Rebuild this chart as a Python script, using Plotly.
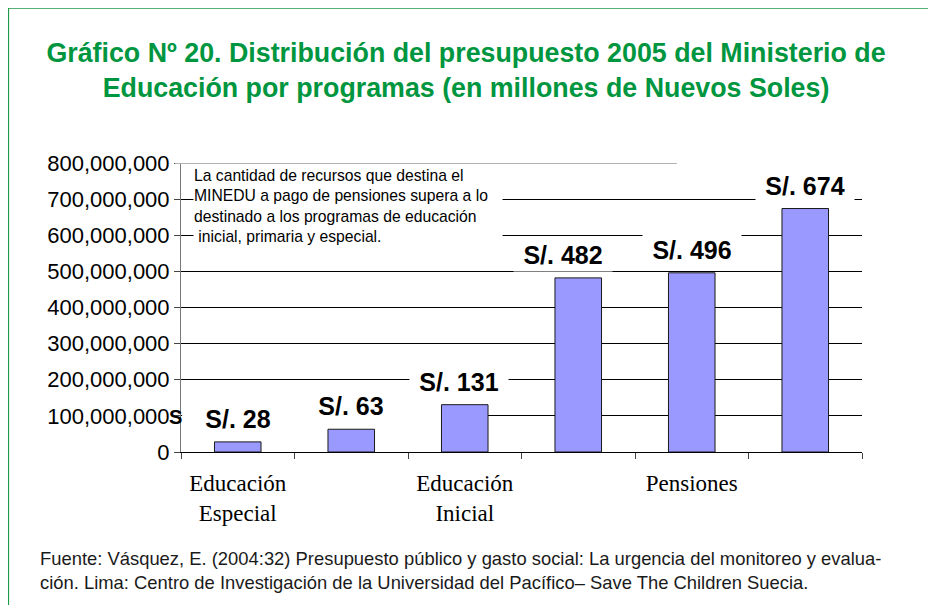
import plotly.graph_objects as go

# Presupuesto 2005 MINEDU por programas (Nuevos Soles)
valores = [28e6, 63e6, 131e6, 482e6, 496e6, 674e6]
etiquetas_x = ["Educación<br>Especial", "", "Educación<br>Inicial", "", "Pensiones", ""]
ticks_y = [0, 100e6, 200e6, 300e6, 400e6, 500e6, 600e6, 700e6, 800e6]
grid_y = [100e6, 200e6, 300e6, 400e6, 500e6, 600e6, 700e6]

titulo = ("Gráfico Nº 20. Distribución del presupuesto 2005 del Ministerio de<br>"
          "Educación por programas (en millones de Nuevos Soles)")
nota = ("La cantidad de recursos que destina el<br>"
        "MINEDU a pago de pensiones supera a lo<br>"
        "destinado a los programas de educación<br>"
        " inicial, primaria y especial.")
fuente = ("Fuente: Vásquez, E. (2004:32) Presupuesto público y gasto social: La urgencia del monitoreo y evalua-<br>"
          "ción. Lima: Centro de Investigación de la Universidad del Pacífico– Save The Children Suecia.")

SANS = "Liberation Sans, Arial, sans-serif"
SERIF = "Liberation Serif, Times New Roman, serif"
VERDE = "#009640"

x = list(range(len(valores)))

fig = go.Figure()
fig.add_trace(go.Bar(
    x=x, y=valores, width=0.41,
    marker=dict(color="#9999ff", line=dict(color="#1a1a1a", width=1)),
    showlegend=False, hoverinfo="skip",
))

# etiquetas de datos con fondo blanco (tapan la cuadricula)
dx = [0, 0, -6, -15, 0, 0]
for i, v in enumerate(valores):
    fig.add_annotation(
        x=i, y=v, text="<b>S/. %d</b>" % round(v / 1e6),
        showarrow=False, yanchor="middle", yshift=23, xshift=dx[i],
        font=dict(family=SANS, size=25, color="black"),
        bgcolor="white", width=98, height=32, borderpad=0,
    )

# recuadro de texto
fig.add_annotation(
    xref="paper", yref="paper", x=0.0176, y=0.993, xanchor="left", yanchor="top",
    text=nota, showarrow=False, align="left",
    font=dict(family=SANS, size=15.7, color="black"),
    bgcolor="white", width=308, height=80, borderpad=0,
)
fig.add_shape(type="line", xref="paper", yref="y", x0=-0.009, x1=0.728,
              y0=800e6, y1=800e6, line=dict(color="#b0b0b0", width=2))

# trozo de cuadricula oculto por las etiquetas
fig.add_shape(type="line", xref="x", yref="y", x0=-0.49, x1=2, y0=100e6, y1=100e6,
              line=dict(color="white", width=3), layer="between")

# resto de etiqueta cortada
fig.add_annotation(xref="paper", yref="y", x=-0.021, y=100e6, xanchor="left",
                   text="<b>S</b>", showarrow=False, yshift=-1,
                   font=dict(family=SANS, size=20, color="black"))

fig.add_annotation(
    xref="paper", yref="paper", x=-0.21, y=-0.41, xanchor="left", yanchor="middle",
    text=fuente, showarrow=False, align="left",
    font=dict(family=SANS, size=18.4, color="#1a1a1a"),
)

# marco verde
fig.add_shape(type="line", xref="paper", yref="paper", x0=-0.2535, x1=-0.2535,
              y0=1.536, y1=-0.53, line=dict(color="#1e9a4a", width=1.5))
fig.add_shape(type="line", xref="paper", yref="paper", x0=-0.2535, x1=1.12,
              y0=1.536, y1=1.536, line=dict(color="#1e9a4a", width=1.5))

# la pagina deja 8 px de margen arriba y a la izquierda
fig.update_layout(
    width=928, height=597,
    margin=dict(l=173, r=74, t=155, b=153),
    paper_bgcolor="white", plot_bgcolor="white",
    title=dict(text="<b>%s</b>" % titulo, x=0.5 - 6 / 928, xanchor="center",
               y=1 - 54 / 597, yanchor="middle",
               font=dict(family=SANS, size=26.8, color=VERDE)),
    xaxis=dict(
        range=[-0.5, 5.5], tickmode="array", tickvals=x, ticktext=etiquetas_x,
        ticks="", showgrid=False, zeroline=False,
        showline=True, linecolor="black", linewidth=1,
        tickfont=dict(family=SERIF, size=23, color="black"),
        ticklabelstandoff=10,
        minor=dict(tickmode="linear", tick0=-0.5, dtick=1, ticks="outside",
                   ticklen=6, tickcolor="#444", showgrid=False),
    ),
    yaxis=dict(
        range=[0, 800e6], tickmode="array", tickvals=ticks_y, tickformat=",d",
        ticks="outside", ticklen=6, tickcolor="#444",
        showline=True, linecolor="#777", linewidth=1,
        showgrid=False, zeroline=False,
        tickfont=dict(family=SANS, size=22, color="black"),
        minor=dict(tickmode="array", tickvals=grid_y, showgrid=True,
                   gridcolor="black", gridwidth=1, ticks=""),
    ),
)

fig.write_html("out.html")
